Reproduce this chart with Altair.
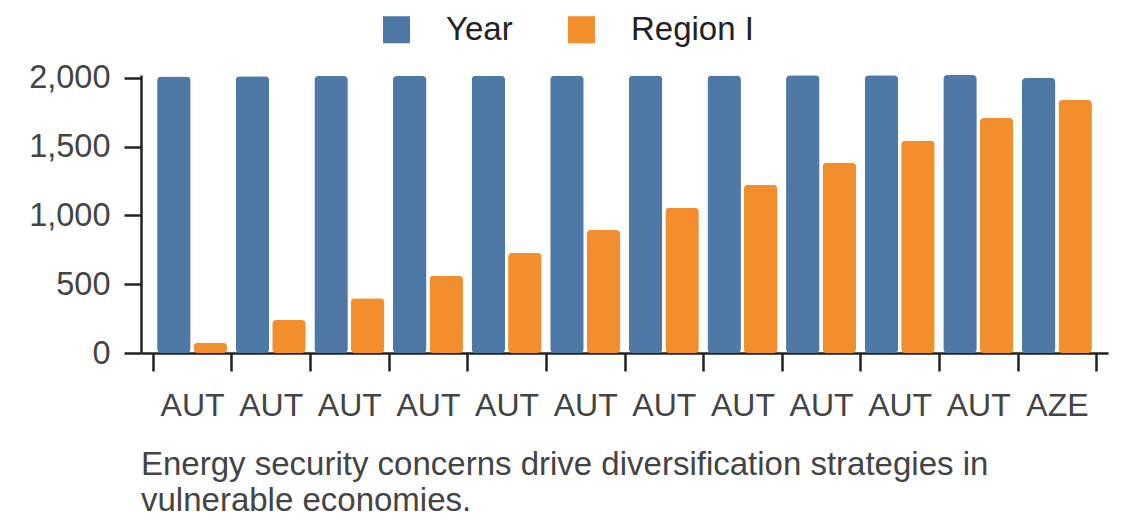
import altair as alt
import pandas as pd

countries = ["AUT"] * 11 + ["AZE"]
years = [2010, 2011, 2012, 2013, 2014, 2015, 2016, 2017, 2018, 2019, 2020, 1998]
region_i = [75, 240, 398, 562, 727, 893, 1055, 1222, 1382, 1542, 1707, 1838]
series = ["Year", "Region I"]
colors = ["#4e79a7", "#f28e2b"]
title_lines = ["Energy security concerns drive diversification strategies in",
               "vulnerable economies."]

keys = [f"{c}|{i}" for i, c in enumerate(countries)]
rows = []
for k, y, r in zip(keys, years, region_i):
    rows.append({"key": k, "series": "Year", "value": y})
    rows.append({"key": k, "series": "Region I", "value": r})
df = pd.DataFrame(rows)

font = "Liberation Sans"

chart = alt.Chart(df).mark_bar(cornerRadius=4).encode(
    x=alt.X("key:N", sort=keys, title=None,
            scale=alt.Scale(paddingInner=0, paddingOuter=0.15),
            axis=alt.Axis(labelExpr="split(datum.label, '|')[0]", labelAngle=0,
                          tickBand="extent", tickSize=18, tickWidth=2.5,
                          domainWidth=2.5, domainColor="#222", tickColor="#222",
                          labelFontSize=32, labelColor="#444", labelPadding=19,
                          labelFont=font)),
    xOffset=alt.XOffset("series:N", sort=series,
                        scale=alt.Scale(paddingInner=0.082, paddingOuter=0.118)),
    y=alt.Y("value:Q", title=None,
            scale=alt.Scale(domain=[0, 2020], nice=False, zero=True),
            axis=alt.Axis(values=[0, 500, 1000, 1500, 2000], format=",d",
                          grid=False, tickSize=17, tickWidth=2.5,
                          domainWidth=2.5, domainColor="#222", tickColor="#222",
                          labelFontSize=32.5, labelColor="#444", labelPadding=14,
                          labelFont=font)),
    color=alt.Color("series:N", sort=series,
                    scale=alt.Scale(domain=series, range=colors),
                    legend=alt.Legend(title=None, orient="none", direction="horizontal",
                                      legendX=239, legendY=-62, symbolType="square",
                                      symbolSize=729, symbolStrokeWidth=0,
                                      labelFontSize=33, labelColor="#222",
                                      labelFont=font, labelOffset=33,
                                      columnPadding=52, padding=0)),
).properties(
    width=967,
    height=278,
    title=alt.TitleParams(text=title_lines, orient="bottom", anchor="start",
                          frame="group", fontSize=33, lineHeight=36, color="#444",
                          fontWeight="normal", font=font, offset=28),
    autosize=alt.AutoSizeParams(type="none"),
    padding={"left": 133, "top": 67, "right": 24, "bottom": 175},
).configure_view(stroke=None)

chart.save("out.html", embed_options={"renderer": "svg", "actions": False})
